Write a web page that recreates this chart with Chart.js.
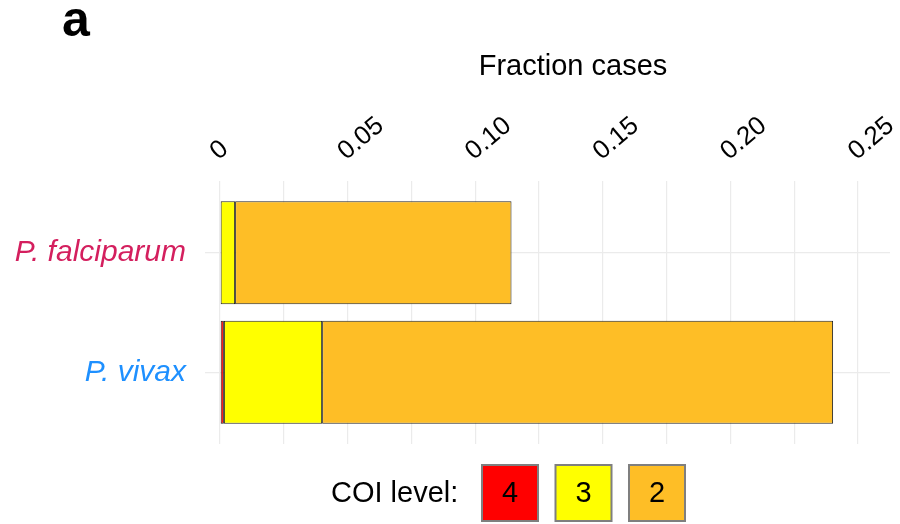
<!DOCTYPE html>
<html>
<head>
<meta charset="utf-8">
<script src="https://cdn.jsdelivr.net/npm/chart.js@4"></script>
<style>
  html, body { margin: 0; padding: 0; background: #ffffff; }
  #wrap { width: 900px; height: 524px; }
</style>
</head>
<body>
<div id="wrap"><canvas id="miGrafica" width="900" height="524"></canvas></div>
<script>
// Especies (eje Y)
const especies = ["P. falciparum", "P. vivax"];
const coloresEspecies = ["#D41F5E", "#1E90FF"];
// Fracción de casos por nivel COI
const niveles = ["4", "3", "2"];
const coi4 = [0, 0.0015];
const coi3 = [0.0059, 0.0385];
const coi2 = [0.1083, 0.2002];
const coloresNiveles = ["#FF0000", "#FFFF00", "#FEBE26"];
// Ticks eje X
const ticksX = [0, 0.025, 0.05, 0.075, 0.10, 0.125, 0.15, 0.175, 0.20, 0.225, 0.25];

const familia = "'Liberation Sans', Arial, sans-serif";

function puntos(valores) {
  return valores.map((v, i) => ({ x: v, y: i + 1 }));
}

// Textos extra: letra del panel, título del eje y leyenda con cajas
const textosExtra = {
  id: "textosExtra",
  afterDraw(chart) {
    const c = chart.ctx;
    c.save();
    c.fillStyle = "#000";
    c.textBaseline = "middle";
    c.font = "bold 50px " + familia;
    c.textAlign = "left";
    c.fillText("a", 62, 22);
    c.font = "29px " + familia;
    c.textAlign = "center";
    c.fillText("Fraction cases", 573, 67);

    // leyenda
    c.textAlign = "left";
    c.fillText("COI level:", 331, 494);
    const ds = chart.data.datasets;
    let x = 482;
    ds.forEach((d) => {
      c.fillStyle = d.backgroundColor;
      c.fillRect(x, 465, 56, 56);
      c.strokeStyle = "#7F7F7F";
      c.lineWidth = 2;
      c.strokeRect(x, 465, 56, 56);
      c.fillStyle = "#000";
      c.textAlign = "center";
      c.fillText(d.label, x + 28, 494);
      x += 73.5;
    });
    c.restore();
  }
};

const ctx = document.getElementById("miGrafica").getContext("2d");
new Chart(ctx, {
  type: "bar",
  data: {
    datasets: [
      { label: niveles[0], data: puntos(coi4), backgroundColor: coloresNiveles[0] },
      { label: niveles[1], data: puntos(coi3), backgroundColor: coloresNiveles[1] },
      { label: niveles[2], data: puntos(coi2), backgroundColor: coloresNiveles[2] },
    ],
  },
  options: {
    indexAxis: "y",
    responsive: false,
    animation: false,
    layout: { padding: { top: 0, left: 0, right: 10, bottom: 80 } },
    datasets: {
      bar: {
        borderColor: "#222222",
        borderWidth: 1,
        borderSkipped: false,
        categoryPercentage: 1,
        barPercentage: 0.862,
      },
    },
    plugins: {
      legend: { display: false },
      tooltip: { enabled: false },
    },
    scales: {
      x: {
        type: "linear",
        position: "top",
        stacked: true,
        min: -0.0059,
        max: 0.2625,
        afterBuildTicks: (s) => { s.ticks = ticksX.map((v) => ({ value: v })); },
        afterFit: (s) => { s.height = 181; s.paddingLeft = 0; s.paddingRight = 0; },
        border: { display: false },
        grid: { color: "#EBEBEB", lineWidth: 1.2, drawTicks: false },
        ticks: {
          autoSkip: false,
          minRotation: 40,
          maxRotation: 40,
          padding: 14,
          labelOffset: 14,
          color: "#000",
          font: { family: familia, size: 26 },
          callback: (v) => {
            const k = Math.round(v * 1000);
            if (k % 50 !== 0) return "";
            return k === 0 ? "0" : v.toFixed(2);
          },
        },
      },
      y: {
        type: "linear",
        stacked: true,
        reverse: true,
        offset: false,
        min: 0.4,
        max: 2.6,
        afterBuildTicks: (s) => { s.ticks = especies.map((e, i) => ({ value: i + 1 })); },
        afterFit: (s) => { s.width = 205; },
        border: { display: false },
        grid: { color: "#EBEBEB", lineWidth: 1.2, drawTicks: false, offset: false },
        ticks: {
          padding: 19,
          color: (c) => coloresEspecies[Math.round(c.tick.value) - 1],
          font: { family: familia, size: 30, style: "italic" },
          callback: (v) => especies[Math.round(v) - 1],
        },
      },
    },
  },
  plugins: [textosExtra],
});
</script>
</body>
</html>
